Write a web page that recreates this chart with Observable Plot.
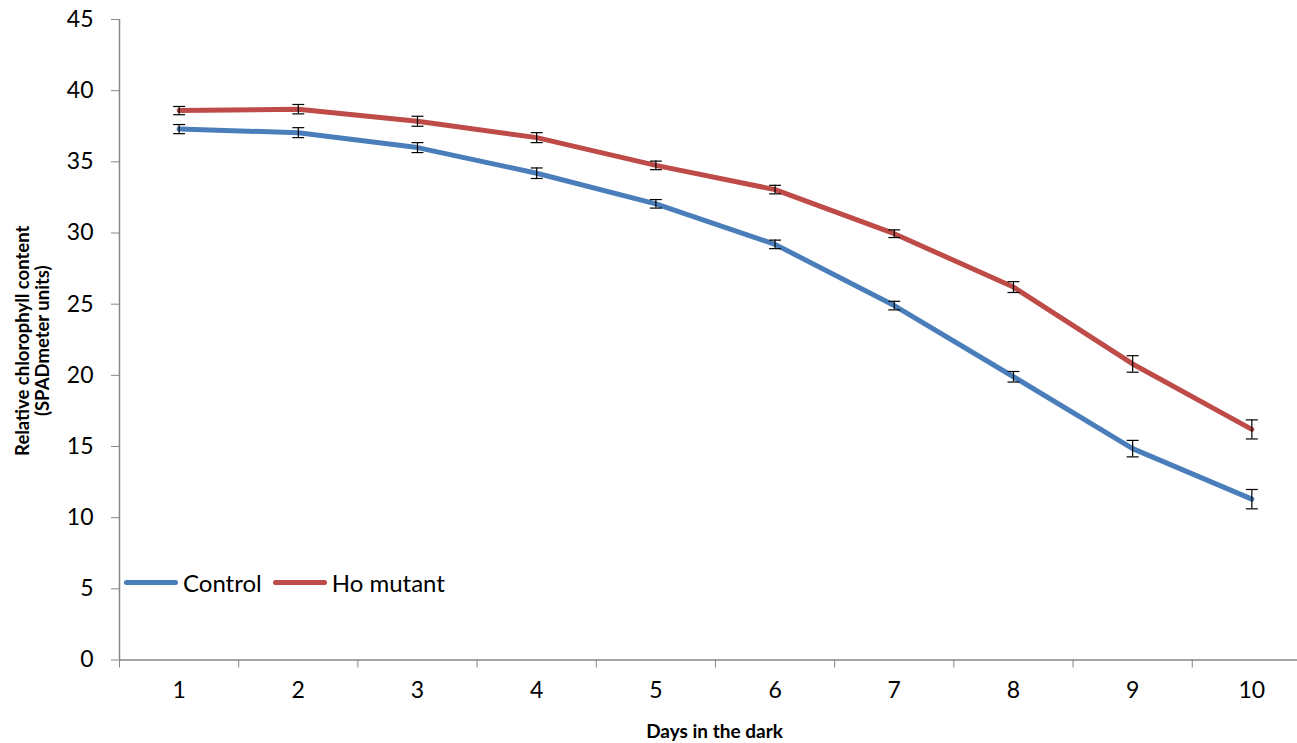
<!DOCTYPE html>
<html>
<head>
<meta charset="utf-8">
<script src="https://cdn.jsdelivr.net/npm/d3@7"></script>
<script src="https://cdn.jsdelivr.net/npm/@observablehq/plot@0.6"></script>
<style>
  html, body { margin: 0; padding: 0; background: #fff; }
  #wrap { position: relative; width: 1297px; height: 743px; overflow: hidden; }
  #legend { position: absolute; left: 124px; top: 568px; display: flex; align-items: center;
            font-family: Lato, "Open Sans", sans-serif; font-size: 24px; color: #000; }
  #legend .sw { display: inline-block; width: 54px; height: 5px; border-radius: 3px; margin-right: 5px; }
  #legend .item { display: flex; align-items: center; margin-right: 11px; }
</style>
</head>
<body>
<div id="wrap"><div id="legend"></div></div>
<script>
const days = [1, 2, 3, 4, 5, 6, 7, 8, 9, 10];
const control = [37.3, 37.05, 36.0, 34.2, 32.05, 29.2, 24.9, 19.9, 14.85, 11.3];
const controlErr = [0.32, 0.35, 0.35, 0.37, 0.3, 0.3, 0.3, 0.37, 0.58, 0.68];
const mutant = [38.6, 38.7, 37.85, 36.7, 34.75, 33.05, 29.95, 26.2, 20.8, 16.2];
const mutantErr = [0.29, 0.33, 0.35, 0.35, 0.3, 0.3, 0.27, 0.38, 0.58, 0.67];
const seriesNames = ["Control", "Ho mutant"];
const seriesColors = ["#4a7ebb", "#be4b48"];
const yTicks = [0, 5, 10, 15, 20, 25, 30, 35, 40, 45];
const xBoundaries = [0.5, 1.5, 2.5, 3.5, 4.5, 5.5, 6.5, 7.5, 8.5, 9.5, 10.5];

const rows = [];
days.forEach((d, i) => {
  rows.push({day: d, value: control[i], err: controlErr[i], series: seriesNames[0]});
  rows.push({day: d, value: mutant[i], err: mutantErr[i], series: seriesNames[1]});
});

const capHalf = 0.05;
const font = 'Lato, "Open Sans", sans-serif';

const chart = Plot.plot({
  width: 1297,
  height: 743,
  marginLeft: 119,
  marginRight: 0,
  marginTop: 19,
  marginBottom: 83.5,
  style: {fontFamily: font, background: "#fff", overflow: "visible"},
  x: {domain: [0.5, 10.383]},
  y: {domain: [0, 45]},
  color: {domain: seriesNames, range: seriesColors},
  marks: [
    Plot.ruleX([0.5], {stroke: "#868686", strokeWidth: 1.5}),
    Plot.ruleY([0], {stroke: "#868686", strokeWidth: 1.5}),
    Plot.axisY({ticks: yTicks, tickSize: 8, tickPadding: 18, stroke: "#868686", fontSize: 23, fill: "#000", label: null, tickFormat: d => d}),
    Plot.axisX({ticks: xBoundaries, tickSize: 8, tickFormat: () => "", stroke: "#868686", label: null}),
    Plot.axisX({ticks: days, tickSize: 0, tickPadding: 22, fontSize: 23, fill: "#000", label: null, tickFormat: d => d}),
    Plot.line(rows, {x: "day", y: "value", stroke: "series", strokeWidth: 5, strokeLinejoin: "round", strokeLinecap: "round"}),
    Plot.ruleX(rows, {x: "day", y1: d => d.value - d.err, y2: d => d.value + d.err, stroke: "#000", strokeWidth: 1.2}),
    Plot.link(rows, {x1: d => d.day - capHalf, x2: d => d.day + capHalf, y1: d => d.value - d.err, y2: d => d.value - d.err, stroke: "#000", strokeWidth: 1.2}),
    Plot.link(rows, {x1: d => d.day - capHalf, x2: d => d.day + capHalf, y1: d => d.value + d.err, y2: d => d.value + d.err, stroke: "#000", strokeWidth: 1.2}),
    Plot.text(["Days in the dark"], {frameAnchor: "bottom", lineAnchor: "middle", dy: 72, dx: 6, text: d => d, fontWeight: "bold", fontSize: 19, fill: "#000"}),
    Plot.text(["Relative chlorophyll content\n(SPADmeter units)"], {frameAnchor: "left", textAnchor: "middle", lineAnchor: "middle", dx: -87, dy: 1, rotate: -90, text: d => d, fontWeight: "bold", fontSize: 18.5, lineHeight: 1.1, fill: "#000"})
  ]
});
document.getElementById("wrap").prepend(chart);

const legend = document.getElementById("legend");
seriesNames.forEach((name, i) => {
  const item = document.createElement("div");
  item.className = "item";
  const sw = document.createElement("span");
  sw.className = "sw";
  sw.style.background = seriesColors[i];
  item.appendChild(sw);
  item.appendChild(document.createTextNode(name));
  legend.appendChild(item);
});
</script>
</body>
</html>
